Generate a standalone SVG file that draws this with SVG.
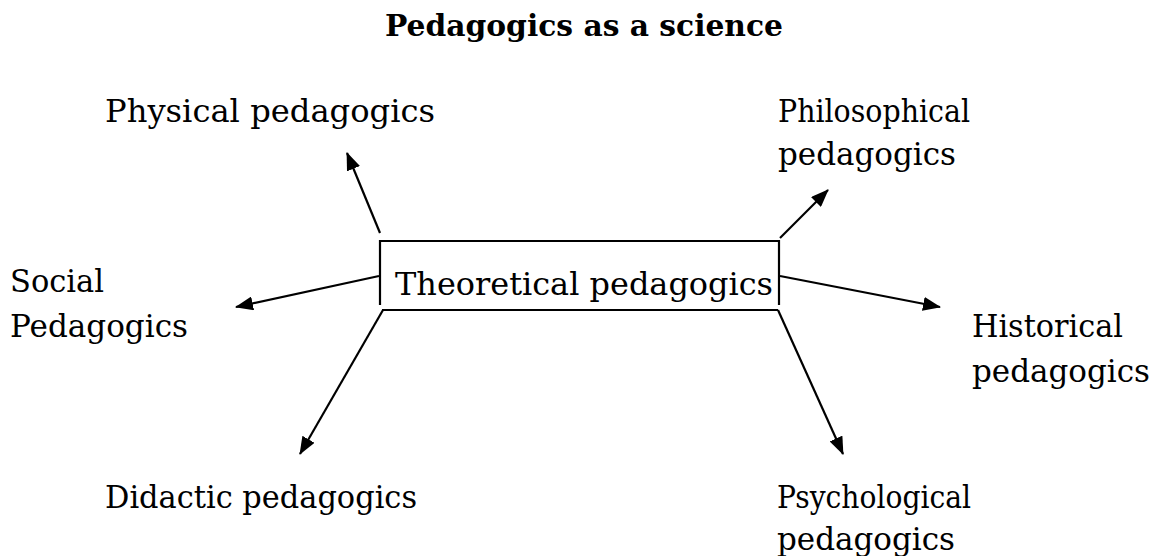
<svg xmlns="http://www.w3.org/2000/svg" width="1161" height="556" viewBox="0 0 1161 556">
<style>
text{font-family:"DejaVu Serif","Liberation Serif",serif;font-size:32px;fill:#000}
.title{font-weight:bold;font-size:30px}
.ln{stroke:#000;stroke-width:2.2;fill:none}
</style>
<defs>
<marker id="ah" viewBox="0 0 18 14" refX="17" refY="7" markerWidth="18" markerHeight="14" markerUnits="userSpaceOnUse" orient="auto">
<path d="M0,0 L18,7 L0,14 z" fill="#000"/>
</marker>
</defs>
<rect width="1161" height="556" fill="#fff"/>
<g id="title"><text class="title" x="385" y="36" textLength="398" lengthAdjust="spacingAndGlyphs">Pedagogics as a science</text></g>
<g id="theoretical">
<path class="ln" d="M380,305 V241 H779 V305"/>
<path class="ln" d="M382,310 H778"/>
<text x="395" y="295" textLength="378" lengthAdjust="spacingAndGlyphs">Theoretical pedagogics</text>
</g>
<g id="physical"><text x="105" y="122" textLength="330" lengthAdjust="spacingAndGlyphs">Physical pedagogics</text></g>
<g id="philosophical"><text x="778" y="122" textLength="192" lengthAdjust="spacingAndGlyphs">Philosophical</text><text x="778" y="165" textLength="178" lengthAdjust="spacingAndGlyphs">pedagogics</text></g>
<g id="social"><text x="10" y="292" textLength="94" lengthAdjust="spacingAndGlyphs">Social</text><text x="10" y="337" textLength="178" lengthAdjust="spacingAndGlyphs">Pedagogics</text></g>
<g id="historical"><text x="972" y="337" textLength="151" lengthAdjust="spacingAndGlyphs">Historical</text><text x="972" y="382" textLength="178" lengthAdjust="spacingAndGlyphs">pedagogics</text></g>
<g id="didactic"><text x="105" y="508" textLength="312" lengthAdjust="spacingAndGlyphs">Didactic pedagogics</text></g>
<g id="psychological"><text x="777" y="508" textLength="194" lengthAdjust="spacingAndGlyphs">Psychological</text><text x="777" y="550" textLength="178" lengthAdjust="spacingAndGlyphs">pedagogics</text></g>
<g id="connectors">
<line class="ln" x1="380" y1="233" x2="347" y2="153" marker-end="url(#ah)"/>
<line class="ln" x1="780" y1="238" x2="828" y2="190" marker-end="url(#ah)"/>
<line class="ln" x1="379" y1="276" x2="236" y2="307" marker-end="url(#ah)"/>
<line class="ln" x1="780" y1="276" x2="940" y2="307" marker-end="url(#ah)"/>
<line class="ln" x1="383" y1="310" x2="300" y2="454" marker-end="url(#ah)"/>
<line class="ln" x1="778" y1="310" x2="843" y2="454" marker-end="url(#ah)"/>
</g>
</svg>
